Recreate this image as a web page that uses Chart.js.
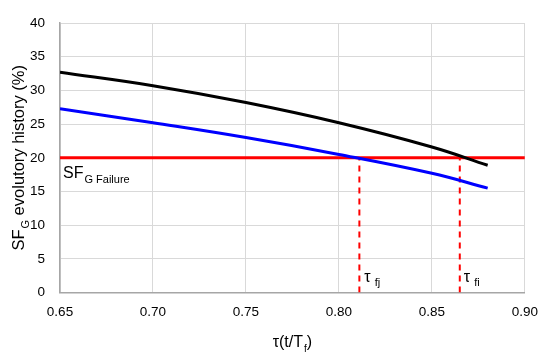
<!DOCTYPE html>
<html>
<head>
<meta charset="utf-8">
<script src="https://cdn.jsdelivr.net/npm/chart.js@4"></script>
<style>
  html, body { margin: 0; padding: 0; background: #fff; }
  #wrap { width: 550px; height: 359px; }
</style>
</head>
<body>
<div id="wrap"><canvas id="myChart" width="550" height="359"></canvas></div>
<script>
var tau = [0.65, 0.70, 0.75, 0.80, 0.85, 0.88];
var sfI = [32.7, 30.7, 28.2, 25.2, 21.6, 18.9];
var sfJ = [27.3, 25.2, 23.0, 20.5, 17.7, 15.5];
var failureLevel = 20;
var tauFj = 0.811;
var tauFi = 0.865;
var xTicks = [0.65, 0.70, 0.75, 0.80, 0.85, 0.90];
var yTicks = [0, 5, 10, 15, 20, 25, 30, 35, 40];

function pts(xs, ys) {
  return xs.map(function (x, i) { return { x: x, y: ys[i] }; });
}

var FONT = '"Liberation Sans", Arial, sans-serif';

// draws text with a subscript part, left aligned at (x, y) baseline
function subText(c, x, y, main, sub, after, size, subSize) {
  c.font = size + 'px ' + FONT;
  c.fillText(main, x, y);
  var w = c.measureText(main).width;
  c.font = subSize + 'px ' + FONT;
  c.fillText(sub, x + w + 1, y + size * 0.3);
  var w2 = c.measureText(sub).width;
  if (after) {
    c.font = size + 'px ' + FONT;
    c.fillText(after, x + w + 1 + w2, y);
  }
}
function subWidth(c, main, sub, after, size, subSize) {
  c.font = size + 'px ' + FONT;
  var w = c.measureText(main).width + (after ? c.measureText(after).width : 0);
  c.font = subSize + 'px ' + FONT;
  return w + 1 + c.measureText(sub).width;
}

var labels = {
  id: 'labels',
  afterDraw: function (chart) {
    var c = chart.ctx;
    var xs = chart.scales.x, ys = chart.scales.y;
    c.save();
    c.fillStyle = '#000';
    c.textAlign = 'left';
    c.textBaseline = 'alphabetic';
    // failure label
    subText(c, xs.getPixelForValue(0.65) + 3, ys.getPixelForValue(failureLevel) + 20, 'SF', 'G Failure', '', 16, 11);
    // tau labels
    subText(c, xs.getPixelForValue(tauFj) + 5, ys.getPixelForValue(0) - 11, '\u03c4', ' fj', '', 16, 11);
    subText(c, xs.getPixelForValue(tauFi) + 4, ys.getPixelForValue(0) - 11, '\u03c4', ' fi', '', 16, 11);
    // x axis title
    var cx = (chart.chartArea.left + chart.chartArea.right) / 2;
    var w = subWidth(c, '\u03c4(t/T', 'f', ')', 16, 10);
    subText(c, cx - w / 2, 347, '\u03c4(t/T', 'f', ')', 16, 10);
    // y axis title
    var cy = (chart.chartArea.top + chart.chartArea.bottom) / 2;
    c.translate(24, cy);
    c.rotate(-Math.PI / 2);
    var w3 = subWidth(c, 'SF', 'G', ' evolutory history (%)', 16.5, 11);
    subText(c, -w3 / 2, 0, 'SF', 'G', ' evolutory history (%)', 16.5, 11);
    c.restore();
  }
};

var ctx = document.getElementById('myChart').getContext('2d');
var myChart = new Chart(ctx, {
  type: 'line',
  data: {
    datasets: [{
      label: 'SFG i',
      data: pts(tau, sfI),
      borderColor: '#000000',
      borderWidth: 3,
      pointRadius: 0,
      tension: 0.4
    },
    {
      label: 'SFG j',
      data: pts(tau, sfJ),
      borderColor: '#0000ff',
      borderWidth: 3,
      pointRadius: 0,
      tension: 0.4
    },
    {
      label: 'Failure',
      data: pts([0.65, 0.90], [failureLevel, failureLevel]),
      borderColor: '#ff0000',
      borderWidth: 3,
      pointRadius: 0
    },
    {
      label: 'tau fj',
      data: pts([tauFj, tauFj], [0, failureLevel]),
      borderColor: '#ff0000',
      borderWidth: 2,
      borderDash: [6, 5],
      pointRadius: 0
    },
    {
      label: 'tau fi',
      data: pts([tauFi, tauFi], [0, failureLevel]),
      borderColor: '#ff0000',
      borderWidth: 2,
      borderDash: [6, 5],
      pointRadius: 0
    }]
  },
  options: {
    responsive: false,
    animation: false,
    layout: { padding: { top: 19, right: 24, left: 0, bottom: 0 } },
    plugins: {
      legend: { display: false },
      tooltip: { enabled: false }
    },
    scales: {
      x: {
        type: 'linear',
        min: 0.65,
        max: 0.90,
        afterBuildTicks: function (s) { s.ticks = xTicks.map(function (v) { return { value: v }; }); },
        afterFit: function (s) { s.height = 66.5; },
        grid: { color: '#d9d9d9', drawTicks: false },
        border: { color: '#a6a6a6', width: 1.5 },
        ticks: {
          padding: 12,
          color: '#000',
          font: { family: FONT, size: 13.5 },
          callback: function (v) { return v.toFixed(2); }
        }
      },
      y: {
        min: 0,
        max: 40,
        afterBuildTicks: function (s) { s.ticks = yTicks.map(function (v) { return { value: v }; }); },
        afterFit: function (s) { s.width = 60; },
        grid: { color: '#d9d9d9', drawTicks: false },
        border: { color: '#a6a6a6', width: 1.5 },
        ticks: {
          padding: 15,
          color: '#000',
          font: { family: FONT, size: 13.5 }
        }
      }
    }
  },
  plugins: [labels]
});
</script>
</body>
</html>
